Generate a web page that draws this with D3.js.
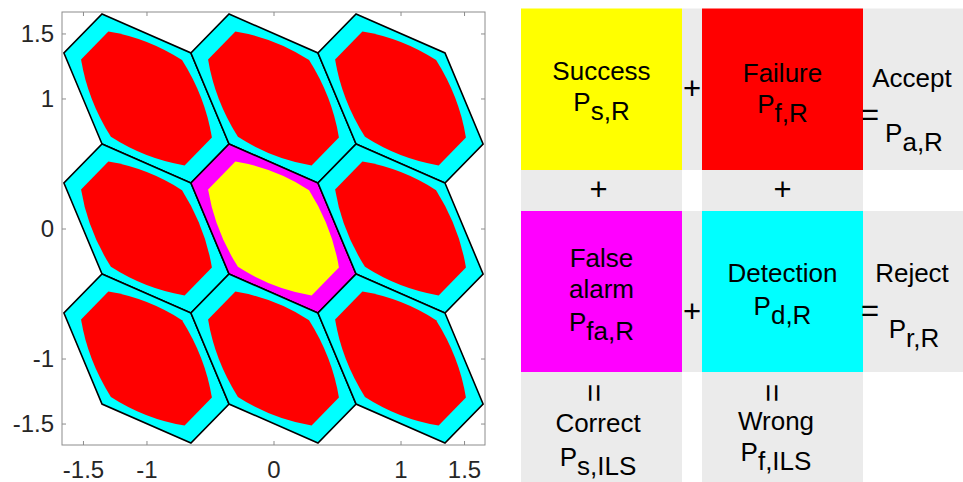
<!DOCTYPE html>
<html>
<head>
<meta charset="utf-8">
<script src="https://cdn.jsdelivr.net/npm/d3@7"></script>
<style>
  html, body { margin: 0; padding: 0; background: #fff; }
  svg { display: block; }
  text { font-family: "Liberation Sans", Arial, Helvetica, sans-serif; }
</style>
</head>
<body>
<svg id="chart" width="963" height="482"></svg>
<script>
// ---- Data -------------------------------------------------------------
// Integer lattice points whose pull-in regions are drawn
const latticeI = [-1, 0, 1];
const latticeJ = [-1, 0, 1];
// Pull-in (Voronoi) cell corners, relative to the lattice point
const cellVertices = [[-0.35, 0.65], [0.35, 0.35], [0.65, -0.35], [0.35, -0.65], [-0.35, -0.35], [-0.65, 0.35]];
// Acceptance region corners, relative to the lattice point
const acceptCorners = [[-0.30, 0.515], [0.28, 0.295], [0.515, -0.30], [0.30, -0.515], [-0.28, -0.295], [-0.515, 0.30]];
// Mid-point of each acceptance border (null = straight border)
const acceptEdgeMids = [[0.0, 0.435], [0.43, 0.005], null, [0.0, -0.435], [-0.43, -0.005], null];
const xTicks = [-1.5, -1, 0, 1, 1.5];
const yTicks = [-1.5, -1, 0, 1, 1.5];
const axisLimits = [-1.665, 1.665];

// Outcome table
const outcomeNames = [["Success"], ["Failure"], ["False", "alarm"], ["Detection"]];
const outcomeSymbols = ["s,R", "f,R", "fa,R", "d,R"];
const totalNames = ["Accept", "Reject"];
const totalSymbols = ["a,R", "r,R"];
const ilsNames = ["Correct", "Wrong"];
const ilsSymbols = ["s,ILS", "f,ILS"];

// ---- Styles -----------------------------------------------------------
const COL = { success: "#ffff00", failure: "#ff0000", falseAlarm: "#ff00ff", detection: "#00ffff", cell: "#ebebeb" };
const outcomeColors = [COL.success, COL.failure, COL.falseAlarm, COL.detection];

const svg = d3.select("#chart");

// ---- Left panel: pull-in and acceptance regions -----------------------
const plot = { left: 62, right: 485, top: 12, bottom: 445 };
const x = d3.scaleLinear().domain(axisLimits).range([plot.left, plot.right]);
const y = d3.scaleLinear().domain(axisLimits).range([plot.bottom, plot.top]);

const centers = [];
latticeJ.slice().reverse().forEach(j => latticeI.forEach(i => centers.push({ i, j, origin: i === 0 && j === 0 })));

const toPx = (c, [u, v]) => [x(c.i + u), y(c.j + v)];

function cellPath(c) {
  const p = d3.path();
  cellVertices.forEach((v, k) => {
    const [px, py] = toPx(c, v);
    k === 0 ? p.moveTo(px, py) : p.lineTo(px, py);
  });
  p.closePath();
  return p.toString();
}

function acceptPath(c) {
  const p = d3.path();
  const n = acceptCorners.length;
  const start = toPx(c, acceptCorners[0]);
  p.moveTo(start[0], start[1]);
  for (let k = 0; k < n; k++) {
    const a = toPx(c, acceptCorners[k]);
    const b = toPx(c, acceptCorners[(k + 1) % n]);
    const mid = acceptEdgeMids[k];
    if (mid) {
      const m = toPx(c, mid);
      const cx = 2 * m[0] - (a[0] + b[0]) / 2;
      const cy = 2 * m[1] - (a[1] + b[1]) / 2;
      p.quadraticCurveTo(cx, cy, b[0], b[1]);
    } else {
      p.lineTo(b[0], b[1]);
    }
  }
  p.closePath();
  return p.toString();
}

const gPlot = svg.append("g");

gPlot.selectAll("path.cell")
  .data(centers)
  .join("path")
  .attr("class", "cell")
  .attr("d", cellPath)
  .attr("fill", d => d.origin ? COL.falseAlarm : COL.detection)
  .attr("stroke", "#000")
  .attr("stroke-width", 1.6)
  .attr("stroke-linejoin", "miter");

gPlot.selectAll("path.accept")
  .data(centers)
  .join("path")
  .attr("class", "accept")
  .attr("d", acceptPath)
  .attr("fill", d => d.origin ? COL.success : COL.failure);

// Axes box with inward ticks
const axisColor = "#8c8c8c";
const labelColor = "#262626";
const tickLen = 4;

function styleAxis(g, showLabels) {
  g.select(".domain").remove();
  g.selectAll(".tick line").attr("stroke", axisColor).attr("stroke-width", 1);
  g.selectAll(".tick text")
    .attr("fill", labelColor)
    .style("font-size", "24px")
    .style("display", showLabels ? null : "none");
}

const fmt = d => String(d);

svg.append("g")
  .attr("transform", `translate(0,${plot.bottom})`)
  .call(d3.axisBottom(x).tickValues(xTicks).tickFormat(fmt).tickSizeInner(-tickLen).tickSizeOuter(0).tickPadding(16))
  .call(g => styleAxis(g, true));

svg.append("g")
  .attr("transform", `translate(0,${plot.top})`)
  .call(d3.axisTop(x).tickValues(xTicks).tickSizeInner(-tickLen).tickSizeOuter(0))
  .call(g => styleAxis(g, false));

svg.append("g")
  .attr("transform", `translate(${plot.left},0)`)
  .call(d3.axisLeft(y).tickValues(yTicks).tickFormat(fmt).tickSizeInner(-tickLen).tickSizeOuter(0).tickPadding(8))
  .call(g => styleAxis(g, true));

svg.append("g")
  .attr("transform", `translate(${plot.right},0)`)
  .call(d3.axisRight(y).tickValues(yTicks).tickSizeInner(-tickLen).tickSizeOuter(0))
  .call(g => styleAxis(g, false));

svg.append("rect")
  .attr("x", plot.left).attr("y", plot.top)
  .attr("width", plot.right - plot.left).attr("height", plot.bottom - plot.top)
  .attr("fill", "none").attr("stroke", axisColor).attr("stroke-width", 1);

// ---- Right panel: outcome table --------------------------------------
const colEdges = [521, 682, 702, 863, 963];
const rowEdges = [8.5, 170, 211, 372, 490];
const FS = 26;
const SIGN_FS = 31;

const gTab = svg.append("g").style("font-size", FS + "px").attr("fill", "#000");

function cellRect(c, r, fill) {
  gTab.append("rect")
    .attr("x", colEdges[c]).attr("y", rowEdges[r])
    .attr("width", colEdges[c + 1] - colEdges[c])
    .attr("height", rowEdges[r + 1] - rowEdges[r])
    .attr("fill", fill);
}

// grey background cells
[[1, 0], [3, 0], [0, 1], [2, 1], [1, 2], [3, 2], [0, 3], [2, 3]].forEach(([c, r]) => cellRect(c, r, COL.cell));
// coloured outcome cells
const outcomeCells = [[0, 0], [2, 0], [0, 2], [2, 2]];
outcomeCells.forEach(([c, r], k) => cellRect(c, r, outcomeColors[k]));

function plainText(cx, by, str, anchor, size) {
  const t = gTab.append("text").attr("x", cx).attr("y", by)
    .attr("text-anchor", anchor || "middle").text(str);
  if (size) t.style("font-size", size + "px");
  return t;
}

function probText(cx, by, sub) {
  const t = gTab.append("text").attr("x", cx).attr("y", by).attr("text-anchor", "middle");
  t.append("tspan").text("P");
  t.append("tspan").attr("dy", 9).text(sub);
}

const colMid = c => (colEdges[c] + colEdges[c + 1]) / 2;

// outcome cells: name lines then probability symbol
const outcomeLayout = [
  { nameY: [80], symY: 111 },
  { nameY: [82], symY: 113 },
  { nameY: [267, 298], symY: 331 },
  { nameY: [282], symY: 315 }
];
outcomeCells.forEach(([c, r], k) => {
  const cx = colMid(c);
  outcomeNames[k].forEach((line, li) => plainText(cx, outcomeLayout[k].nameY[li], line));
  probText(cx, outcomeLayout[k].symY, outcomeSymbols[k]);
});

// plus signs between outcomes
plainText(colMid(1), 99, "+", "middle", SIGN_FS);
plainText(colMid(1), 322, "+", "middle", SIGN_FS);
plainText(colMid(0) - 3, 200, "+", "middle", SIGN_FS);
plainText(colMid(2), 200, "+", "middle", SIGN_FS);

// row totals
const totalLayout = [
  { nameY: 87, symY: 142, eqY: 125 },
  { nameY: 282, symY: 338, eqY: 321 }
];
totalNames.forEach((name, k) => {
  const L = totalLayout[k];
  plainText(912, L.nameY, name);
  probText(914, L.symY, totalSymbols[k]);
  plainText(861, L.eqY, "=", "start", SIGN_FS);
});

// column equivalents (ILS)
const ilsCentres = [598, 776];
ilsNames.forEach((name, k) => {
  const cx = ilsCentres[k];
  gTab.append("text")
    .attr("transform", `translate(${cx - 3},393) rotate(90)`)
    .attr("text-anchor", "middle").attr("dy", "0.33em")
    .style("font-size", "32px")
    .text("=");
  plainText(cx, k === 0 ? 432 : 430, name);
  probText(cx, k === 0 ? 466 : 461, ilsSymbols[k]);
});
</script>
</body>
</html>
